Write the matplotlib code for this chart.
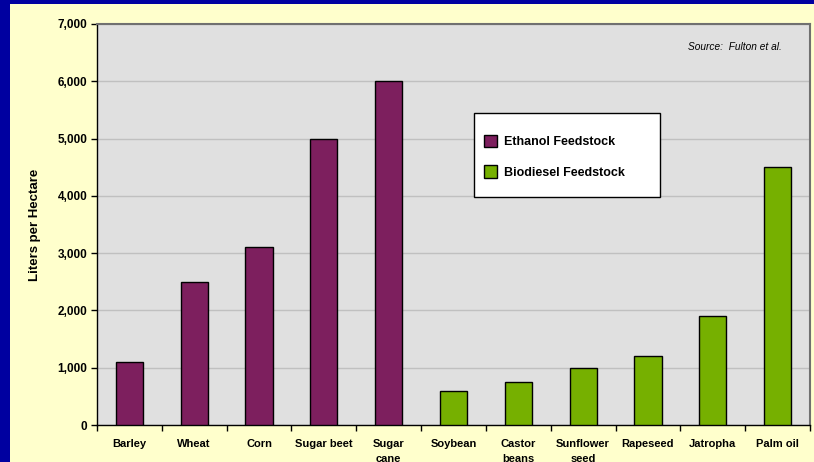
import matplotlib.pyplot as plt
import numpy as np

plt.rcParams['font.family'] = ['Liberation Sans', 'DejaVu Sans']

ethanol_crops = ['Barley', 'Wheat', 'Corn', 'Sugar beet', 'Sugar\ncane']
ethanol_yield = [1100, 2500, 3100, 5000, 6000]
biodiesel_crops = ['Soybean', 'Castor\nbeans', 'Sunflower\nseed', 'Rapeseed', 'Jatropha', 'Palm oil']
biodiesel_yield = [600, 750, 1000, 1200, 1900, 4500]

purple = '#7D1F5E'
green = '#76B000'

W, H = 814, 462
fig = plt.figure(figsize=(W / 100, H / 100), dpi=100, facecolor='#0000A0')
# yellow panel inside the blue frame
fig.patches.append(plt.Rectangle((10 / W, 0), 1, 1 - 4 / H, transform=fig.transFigure,
                                 facecolor='#FFFFCC', edgecolor='none', zorder=-10))

ax_l, ax_t, ax_r, ax_b = 97, 24, 810, 425
ax = fig.add_axes([ax_l / W, 1 - ax_b / H, (ax_r - ax_l) / W, (ax_b - ax_t) / H])
ax.set_facecolor('#E0E0E0')


def px(x, y):
    # pixel position in the picture -> axes fraction
    return (x - ax_l) / (ax_r - ax_l), 1 - (y - ax_t) / (ax_b - ax_t)


labels = ethanol_crops + biodiesel_crops
x_eth = np.arange(len(ethanol_crops))
x_bio = np.arange(len(biodiesel_crops)) + len(ethanol_crops)
width = 0.42

ax.bar(x_eth, ethanol_yield, width, color=purple, edgecolor='black', linewidth=1,
       label='Ethanol Feedstock', zorder=3)
ax.bar(x_bio, biodiesel_yield, width, color=green, edgecolor='black', linewidth=1,
       label='Biodiesel Feedstock', zorder=3)

ax.set_xlim(-0.5, len(labels) - 0.5)
ax.set_ylim(0, 7000)
ax.set_yticks(range(0, 7001, 1000))
ax.set_yticklabels([f'{v:,}' for v in range(0, 7001, 1000)], fontsize=8.5, fontweight='bold')
ax.yaxis.grid(True, color='#C0C0C0', linewidth=1, zorder=0)
ax.set_axisbelow(True)

ax.set_xticks(np.arange(len(labels)))
ax.set_xticklabels(labels, fontsize=8, fontweight='bold', va='top', linespacing=1.6)
ax.set_xticks(np.arange(len(labels) + 1) - 0.5, minor=True)
ax.tick_params(axis='x', which='major', length=0, pad=10)
ax.tick_params(axis='x', which='minor', length=4, direction='out', width=1)
ax.tick_params(axis='y', length=4, direction='out', width=1, pad=3)

for side in ['top', 'right']:
    ax.spines[side].set_color('#707070')
    ax.spines[side].set_linewidth(1.5)
for side in ['left', 'bottom']:
    ax.spines[side].set_color('black')
    ax.spines[side].set_linewidth(1)

ax.set_ylabel('Liters per Hectare', fontsize=9.5, fontweight='bold', labelpad=12)

ax.text(*px(782, 47), 'Source:  Fulton et al.', transform=ax.transAxes, ha='right',
        va='center', fontsize=7.3, style='italic')

# legend frame drawn separately so the padding matches
x0, y0 = px(474, 197)
x1, y1 = px(660, 113)
ax.add_patch(plt.Rectangle((x0, y0), x1 - x0, y1 - y0, transform=ax.transAxes,
                           facecolor='white', edgecolor='black', linewidth=1, zorder=5))
leg = ax.legend(loc='upper left', bbox_to_anchor=px(484, 135),
                prop={'weight': 'bold', 'size': 9}, frameon=False,
                handlelength=1.05, handleheight=1.15, borderpad=0, labelspacing=1.35,
                handletextpad=0.55, borderaxespad=0)
leg.set_zorder(6)

plt.savefig('out.png', dpi=100, facecolor=fig.get_facecolor())
